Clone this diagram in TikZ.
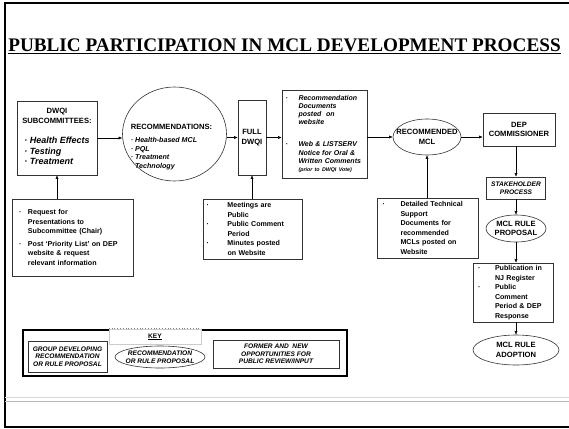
\documentclass[tikz,border=0pt]{standalone}
\usepackage{fontspec}
\setmainfont{Liberation Sans}
\newfontfamily\titlefont{Liberation Serif}
\usetikzlibrary{shapes.geometric,arrows.meta}

\newcommand{\hdsize}{\fontsize{7.6}{9.6}\selectfont}
\newcommand{\txsize}{\fontsize{7.1}{9.5}\selectfont}
\newcommand{\kysize}{\fontsize{6.6}{7.6}\selectfont}
\newcommand{\dotitem}[1][9pt]{\makebox[#1][l]{·}}
\newcommand{\dotskip}[1][9pt]{\hspace*{#1}}

\begin{document}
\begin{tikzpicture}[x=1pt, y=-1pt,
    grpbox/.style={draw=black!80, line width=0.6pt, rectangle, inner sep=0pt, align=left, font=\txsize\bfseries},
    recell/.style={draw=black!80, line width=0.6pt, ellipse, inner sep=0pt},
    elltext/.style={inner sep=0pt, align=center, font=\hdsize\bfseries},
    keybox/.style={draw=black!80, line width=0.6pt, rectangle, inner sep=0pt, align=center, font=\kysize\bfseries\itshape},
    arr/.style={-{Latex[length=3.5pt,width=3pt]}, line width=0.5pt}]
    \useasboundingbox (0,0) rectangle (569,428);

    % slide frame and footer lines
    \draw[line width=2.6pt] (569,3) -- (5,3) -- (5,427) -- (569,427);
    \draw[gray!30, line width=0.8pt] (5,397) -- (569,397);
    \draw[gray!55, line width=0.8pt] (5,401) -- (569,401);

    % title
    \node[anchor=base, inner sep=0pt, font=\titlefont\fontsize{19.2}{22}\selectfont\bfseries] (title) at (284.5,52) {\underline{PUBLIC PARTICIPATION IN MCL DEVELOPMENT PROCESS}};

    % top row, left to right
    \node[grpbox, minimum width=80pt, minimum height=74pt, align=center, font=\hdsize\bfseries] (sub) at (57,138) {DWQI\\SUBCOMMITTEES:\\[11pt]{\fontsize{9}{10.5}\selectfont\itshape\begin{tabular}[t]{@{}l@{}}· Health Effects\\· Testing\\· Treatment\end{tabular}}};
    \node[recell, minimum width=104pt, minimum height=94pt] (rec) at (174.5,134) {};
    \node[inner sep=0pt, font=\fontsize{7.1}{8.6}\selectfont\bfseries\itshape] (rec-t) at (171.5,147) {\begin{tabular}{@{}l@{}}{\upshape\hdsize RECOMMENDATIONS:}\\[5pt]· Health-based MCL\\· PQL\\· Treatment\\\phantom{· }Technology\end{tabular}};
    \node[grpbox, minimum width=28pt, minimum height=75pt, align=center, font=\hdsize\bfseries] (full) at (252,137.5) {FULL\\DWQI};
    \node[grpbox, minimum width=85pt, minimum height=88pt, text width=78pt, font=\fontsize{7}{8.2}\selectfont\bfseries\itshape] (docs) at (324.5,134) {\dotitem[13pt]Recommendation\\\dotskip[13pt]Documents\\\dotskip[13pt]posted\ \ on\\\dotskip[13pt]website\\[13.8pt]\dotitem[13pt]Web \& LISTSERV\\\dotskip[13pt]Notice for Oral \&\\\dotskip[13pt]Written Comments\\\dotskip[13pt]{\fontsize{5.3}{7}\selectfont (prior to DWQI Vote)}};
    \node[recell, minimum width=68pt, minimum height=36pt] (recmcl) at (427,137) {};
    \node[elltext] (recmcl-t) at (recmcl) {RECOMMENDED\\MCL};
    \node[grpbox, minimum width=72pt, minimum height=33pt, align=center, font=\hdsize\bfseries] (dep) at (519,129.5) {DEP\\COMMISSIONER};

    % right column, top to bottom
    \node[grpbox, minimum width=59pt, minimum height=22pt, align=center, font=\fontsize{6.6}{8}\selectfont\bfseries\itshape] (stake) at (516,188) {STAKEHOLDER\\PROCESS};
    \node[recell, minimum width=60pt, minimum height=27pt] (prop) at (516,228.5) {};
    \node[elltext] (prop-t) at (prop) {MCL RULE\\PROPOSAL};
    \node[grpbox, minimum width=80pt, minimum height=59pt, text width=70pt] (pub) at (513,292.5) {\dotitem[17pt]Publication in\\\dotskip[17pt]NJ Register\\\dotitem[17pt]Public\\\dotskip[17pt]Comment\\\dotskip[17pt]Period \& DEP\\\dotskip[17pt]Response};
    \node[recell, minimum width=86pt, minimum height=30pt] (adopt) at (516,350) {};
    \node[elltext] (adopt-t) at (adopt) {MCL RULE\\ADOPTION};

    % public input boxes
    \node[grpbox, minimum width=121pt, minimum height=77pt, text width=107pt] (req) at (72.5,237.5) {\dotitem Request for\\\dotskip Presentations to\\\dotskip Subcommittee (Chair)\\[3pt]\dotitem Post `Priority List' on DEP\\\dotskip website \& request\\\dotskip relevant information};
    \node[grpbox, minimum width=99pt, minimum height=60pt, text width=92pt] (meet) at (252.5,229) {\dotitem[21pt]Meetings are\\\dotskip[21pt]Public\\\dotitem[21pt]Public Comment\\\dotskip[21pt]Period\\\dotitem[21pt]Minutes posted\\\dotskip[21pt]on Website};
    \node[grpbox, minimum width=101pt, minimum height=60pt, text width=90pt] (det) at (427.5,228) {\dotitem[18pt]Detailed Technical\\\dotskip[18pt]Support\\\dotskip[18pt]Documents for\\\dotskip[18pt]recommended\\\dotskip[18pt]MCLs posted on\\\dotskip[18pt]Website};

    % key
    \node[draw, line width=2.5pt, minimum width=324pt, minimum height=46pt, inner sep=0pt] (keyframe) at (185,353) {};
    \node[fill=white, draw=gray!40, line width=0.4pt, minimum width=92pt, minimum height=15.5pt, inner sep=0pt, font=\kysize\bfseries] (keylbl) at (155,336.75) {\underline{KEY}};
    \draw[gray, dotted, line width=0.8pt] (keylbl.north west) -- (keylbl.north east);
    \node[keybox, minimum width=79pt, minimum height=31pt] (grp) at (67.5,356.5) {GROUP DEVELOPING\\RECOMMENDATION\\OR RULE PROPOSAL};
    \node[recell, minimum width=90pt, minimum height=22pt] (keyell) at (160,357) {};
    \node[inner sep=0pt, align=center, font=\kysize\bfseries\itshape] (keyell-t) at (keyell) {RECOMMENDATION\\OR RULE PROPOSAL};
    \node[keybox, minimum width=126pt, minimum height=28pt] (former) at (276,354) {FORMER AND\ \ NEW\\OPPORTUNITIES FOR\\PUBLIC REVIEW/INPUT};

    % main flow
    \draw[arr] (sub.east) -- (sub.east -| rec.west);
    \draw[arr] (rec.east |- full.west) -- (full.west);
    \draw[arr] (full.east) -- (full.east -| docs.west);
    \draw[arr] (docs.east |- recmcl.west) -- (recmcl.west);
    \draw[arr] (recmcl.east) -- (recmcl.east -| dep.west);
    \draw[arr] (dep.south -| stake.north) -- (stake.north);
    \draw[arr] (stake.south) -- (prop.north);
    \draw[arr] (prop.south) -- (prop.south |- pub.north);
    \draw[arr] (adopt.north |- pub.south) -- (adopt.north);

    % public input
    \draw[arr] (req.north -| sub.south) -- (sub.south);
    \draw[arr] (meet.north -| full.south) -- (full.south);
    \draw[arr] (det.north -| recmcl.south) -- (recmcl.south);
\end{tikzpicture}
\end{document}
